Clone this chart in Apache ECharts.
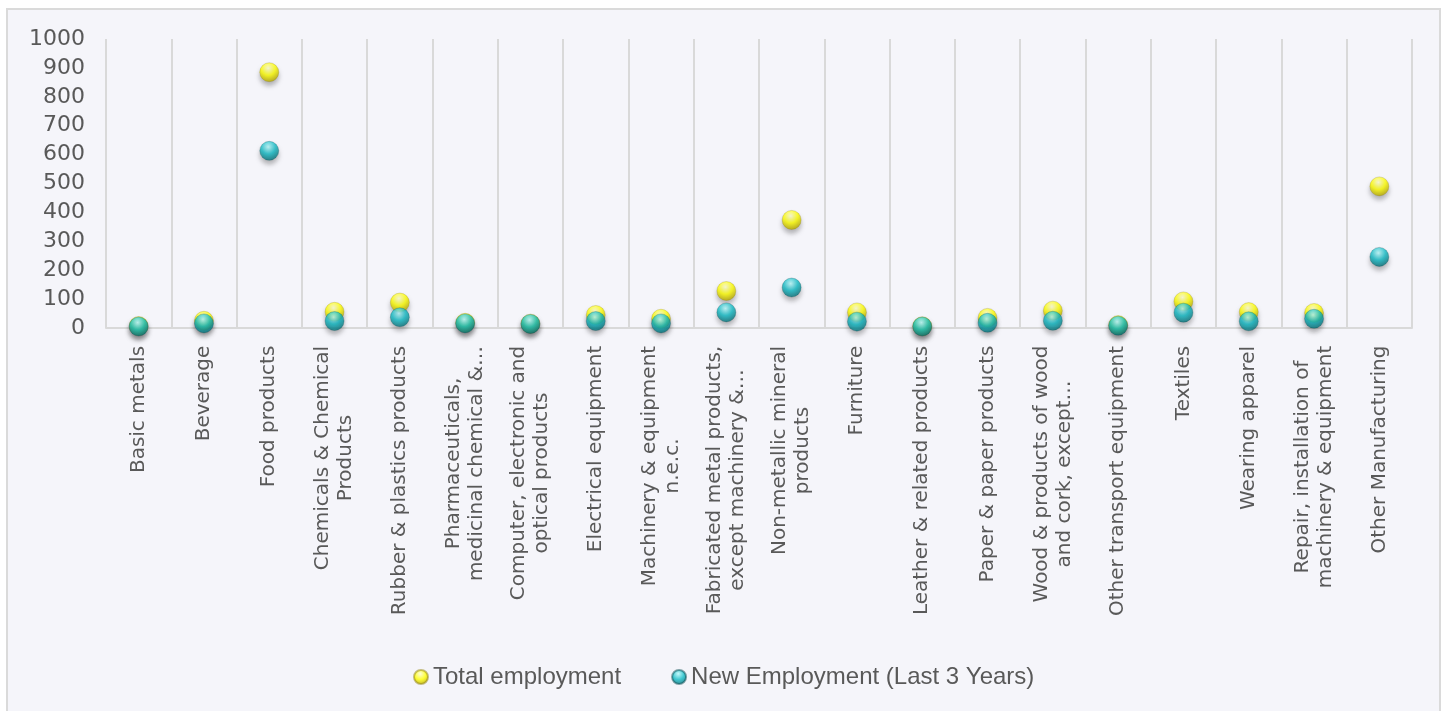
<!DOCTYPE html>
<html>
<head>
<meta charset="utf-8">
<script src="https://cdn.jsdelivr.net/npm/echarts@6/dist/echarts.min.js"></script>
<style>
	html, body { margin: 0; padding: 0; background: #ffffff; }
	#frame {
		position: absolute; left: 6px; top: 8px; width: 1431px; height: 720px;
		background: #f5f5fa; border: 2px solid #dadada;
	}
	#chart { position: absolute; left: 0; top: 0; width: 1447px; height: 711px; }
</style>
</head>
<body>
<div id="frame"></div>
<div id="chart"></div>
<script>
// Category labels, already wrapped the way the original shows them
const categories = [
	'Basic metals',
	'Beverage',
	'Food products',
	'Chemicals & Chemical\nProducts',
	'Rubber & plastics products',
	'Pharmaceuticals,\nmedicinal chemical &…',
	'Computer, electronic and\noptical products',
	'Electrical equipment',
	'Machinery & equipment\nn.e.c.',
	'Fabricated metal products,\nexcept machinery &…',
	'Non-metallic mineral\nproducts',
	'Furniture',
	'Leather & related products',
	'Paper & paper products',
	'Wood & products of wood\nand cork, except…',
	'Other transport equipment',
	'Textiles',
	'Wearing apparel',
	'Repair, installation of\nmachinery & equipment',
	'Other Manufacturing'
];

const totalEmployment = [ 7, 25, 885, 56, 88, 18, 15, 45, 32, 128, 374, 54, 6, 35, 60, 10, 92, 55, 52, 490 ];
const newEmployment = [ 5, 16, 613, 24, 37, 16, 14, 24, 16, 54, 140, 22, 5, 18, 25, 8, 53, 23, 32, 246 ];

const seriesNames = [ 'Total employment', 'New Employment (Last 3 Years)' ];

const textColor = '#595959';
const labelFont = '20px "DejaVu Sans"';

const ball = ( light, mid, dark ) => ( {
	type: 'radial',
	x: 0.45,
	y: 0.3,
	r: 0.72,
	colorStops: [
		{ offset: 0, color: light },
		{ offset: 0.5, color: mid },
		{ offset: 1, color: dark }
	]
} );

const yellowBall = ball( '#ffffd0', '#ffff00', '#b0a000' );
const tealBall = ball( '#b8fafc', '#12bcc6', '#066a72' );

// centre every wrapped line inside its own label block
const ctx = document.createElement( 'canvas' ).getContext( '2d' );
ctx.font = labelFont;
const rich = {};
categories.forEach( ( name, i ) => {
	const w = Math.max( ...name.split( '\n' ).map( ( l ) => ctx.measureText( l ).width ) );
	rich[ 'c' + i ] = {
		width: Math.ceil( w ) + 1,
		align: 'center',
		fontSize: 20,
		lineHeight: 23,
		fontFamily: 'DejaVu Sans',
		color: textColor
	};
} );

const chart = echarts.init( document.getElementById( 'chart' ), null, { renderer: 'canvas' } );

chart.setOption( {
	animation: false,
	backgroundColor: 'transparent',
	grid: { left: 106, right: 35, top: 39, bottom: 383 },
	legend: {
		left: 408,
		top: 660,
		itemGap: 50,
		itemWidth: 14,
		itemHeight: 14,
		icon: 'circle',
		textStyle: { fontFamily: 'Liberation Sans', fontSize: 24, color: textColor },
		data: seriesNames
	},
	xAxis: {
		type: 'category',
		data: categories,
		axisLine: { lineStyle: { color: '#d9d9d9', width: 2 } },
		axisTick: { show: false },
		splitLine: { show: true, interval: 0, lineStyle: { color: '#d9d9d9', width: 2 } },
		axisLabel: {
			interval: 0,
			rotate: 90,
			margin: 17,
			formatter: ( value, idx ) => value.split( '\n' ).map( ( l ) => '{c' + idx + '|' + l + '}' ).join( '\n' ),
			rich
		}
	},
	yAxis: {
		type: 'value',
		min: 0,
		max: 1000,
		interval: 100,
		axisLine: { show: false },
		axisTick: { show: false },
		splitLine: { show: false },
		axisLabel: {
			margin: 21,
			fontSize: 22,
			fontFamily: 'DejaVu Sans',
			color: textColor,
			formatter: ( v ) => String( v )
		}
	},
	series: [
		{
			name: seriesNames[ 0 ],
			type: 'scatter',
			symbolSize: 19,
			data: totalEmployment,
			itemStyle: {
				color: yellowBall,
				borderColor: 'rgba(140,125,0,0.6)',
				borderWidth: 0.5,
				shadowBlur: 5,
				shadowOffsetY: 4,
				shadowColor: 'rgba(0,0,0,0.35)'
			}
		},
		{
			name: seriesNames[ 1 ],
			type: 'scatter',
			symbolSize: 19,
			data: newEmployment,
			itemStyle: {
				color: tealBall,
				borderColor: 'rgba(0,70,75,0.6)',
				borderWidth: 0.5,
				shadowBlur: 5,
				shadowOffsetY: 4,
				shadowColor: 'rgba(0,0,0,0.35)'
			}
		}
	]
} );
</script>
</body>
</html>
